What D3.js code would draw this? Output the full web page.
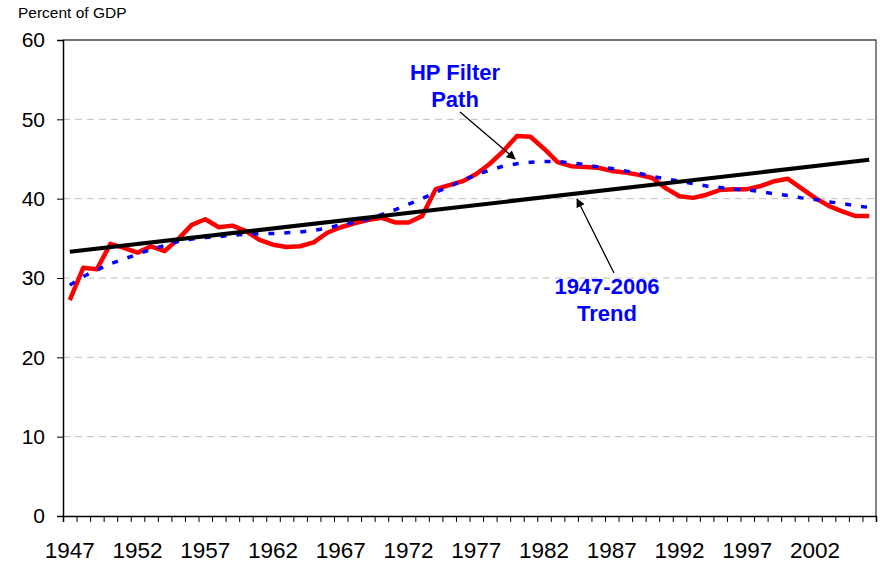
<!DOCTYPE html>
<html>
<head>
<meta charset="utf-8">
<script src="https://cdn.jsdelivr.net/npm/d3@7"></script>
<style>
    body { margin: 0; background: #fff; }
    svg text { font-family: Arial, "Liberation Sans", sans-serif; }
    .grid { stroke: #c0c0c0; stroke-width: 1; stroke-dasharray: 7,5; }
    .actual { fill: none; stroke: #ff0000; stroke-width: 4.5; stroke-linejoin: round; }
    .hp { fill: none; stroke: #0000ff; stroke-width: 3.5; stroke-dasharray: 6,10; }
    .trend { fill: none; stroke: #000; stroke-width: 4; }
    .note { fill: #0000ff; font-weight: bold; font-size: 22px; }
</style>
</head>
<body>
<div id="canvas-container"></div>
<script>
// Share of GDP, 1947-2006
var years = d3.range(1947, 2007);
var actual = [27.2, 31.3, 31.1, 34.3, 33.8, 33.2, 34.0, 33.4, 34.9, 36.7,
              37.4, 36.4, 36.6, 35.9, 34.8, 34.2, 33.9, 34.0, 34.5, 35.7,
              36.4, 36.9, 37.3, 37.6, 37.0, 37.0, 37.8, 41.2, 41.7, 42.2,
              43.1, 44.4, 46.0, 47.9, 47.8, 46.3, 44.6, 44.1, 44.0, 43.9,
              43.5, 43.3, 43.0, 42.6, 41.3, 40.3, 40.1, 40.5, 41.1, 41.2,
              41.2, 41.6, 42.2, 42.5, 41.3, 40.1, 39.1, 38.4, 37.8, 37.8];
var hpFilter = [29.1, 30.2, 31.0, 31.8, 32.4, 33.0, 33.6, 34.1, 34.6, 34.9,
                35.1, 35.2, 35.4, 35.5, 35.6, 35.6, 35.7, 35.8, 36.0, 36.3,
                36.7, 37.0, 37.4, 38.0, 38.6, 39.3, 40.0, 40.8, 41.5, 42.3,
                43.0, 43.6, 44.1, 44.4, 44.6, 44.7, 44.7, 44.5, 44.3, 44.0,
                43.8, 43.5, 43.2, 42.8, 42.5, 42.2, 41.9, 41.6, 41.4, 41.2,
                41.1, 40.9, 40.6, 40.4, 40.1, 39.9, 39.6, 39.4, 39.1, 38.9];
var trendYears = [1947, 2006];
var trendValues = [33.3, 44.9];
var yTicks = [0, 10, 20, 30, 40, 50, 60];
var xLabels = [1947, 1952, 1957, 1962, 1967, 1972, 1977, 1982, 1987, 1992, 1997, 2002];

docMain();

function docMain() {
    var w = 880, h = 566;
    var left = 63, right = 876, top = 40, bottom = 516;

    var svg = d3.select("#canvas-container").append("svg")
        .attr("width", w)
        .attr("height", h);

    var x = d3.scaleBand().domain(years).range([left, right]).padding(0);
    var y = d3.scaleLinear().domain([0, 60]).range([bottom, top]);
    var cx = function(yr) { return x(yr) + x.bandwidth() / 2; };

    // dashed grid
    svg.selectAll("line.grid")
        .data(yTicks.filter(function(v) { return v > 0 && v < 60; }))
        .enter().append("line")
        .attr("class", "grid")
        .attr("x1", left).attr("x2", right)
        .attr("y1", function(d) { return y(d); })
        .attr("y2", function(d) { return y(d); });

    // frame (top and right)
    svg.append("path")
        .attr("d", "M" + left + "," + top + "H" + right + "V" + bottom)
        .attr("fill", "none")
        .attr("stroke", "#444")
        .attr("stroke-width", 1.3);

    // y axis
    var yAxis = d3.axisLeft(y).tickValues(yTicks).tickSize(6).tickPadding(12);
    var gy = svg.append("g").attr("transform", "translate(" + left + ",0)").call(yAxis);
    gy.select(".domain").attr("stroke", "#000").attr("stroke-width", 1.5);
    gy.selectAll("text").attr("font-size", 21).attr("fill", "#000")
        .attr("font-family", "Arial, 'Liberation Sans', sans-serif");

    // x axis: ticks between categories, labels every five years
    var edges = years.map(function(yr) { return x(yr); }).concat([right]);
    var xAxis = d3.axisBottom(d3.scaleLinear().domain([left, right]).range([left, right]))
        .tickValues(edges).tickSize(6).tickFormat("");
    var gx = svg.append("g").attr("transform", "translate(0," + bottom + ")").call(xAxis);
    gx.select(".domain").attr("stroke", "#000").attr("stroke-width", 1.5);

    svg.selectAll("text.xlab")
        .data(xLabels)
        .enter().append("text")
        .attr("class", "xlab")
        .attr("x", function(d) { return cx(d); })
        .attr("y", 558)
        .attr("text-anchor", "middle")
        .attr("font-size", 22.5)
        .text(function(d) { return d; });

    svg.append("text")
        .attr("x", 18).attr("y", 18)
        .attr("font-size", 15.5)
        .text("Percent of GDP");

    // series
    var line = d3.line()
        .x(function(d) { return cx(d[0]); })
        .y(function(d) { return y(d[1]); });

    svg.append("path").attr("class", "actual")
        .attr("d", line(d3.zip(years, actual)));
    svg.append("path").attr("class", "hp")
        .attr("d", line(d3.zip(years, hpFilter)));
    svg.append("path").attr("class", "trend")
        .attr("d", line(d3.zip(trendYears, trendValues)));

    // annotations
    svg.append("defs").append("marker")
        .attr("id", "arrow")
        .attr("viewBox", "0 0 10 10")
        .attr("refX", 9).attr("refY", 5)
        .attr("markerWidth", 9).attr("markerHeight", 9)
        .attr("markerUnits", "userSpaceOnUse")
        .attr("orient", "auto")
        .append("path")
        .attr("d", "M0,0L10,5L0,10z")
        .attr("fill", "#000");

    function arrow(x1, y1, x2, y2) {
        svg.append("line")
            .attr("x1", x1).attr("y1", y1)
            .attr("x2", x2).attr("y2", y2)
            .attr("stroke", "#000")
            .attr("stroke-width", 1.3)
            .attr("marker-end", "url(#arrow)");
    }
    arrow(460, 112, 515, 159);
    arrow(614, 273, 577, 199);

    function note(lines, xc, yb) {
        for (var i = 0; i < lines.length; i++) {
            svg.append("text")
                .attr("class", "note")
                .attr("x", xc)
                .attr("y", yb + i * 27)
                .attr("text-anchor", "middle")
                .text(lines[i]);
        }
    }
    note(["HP Filter", "Path"], 455, 80);
    note(["1947-2006", "Trend"], 607, 294);
}
</script>
</body>
</html>
